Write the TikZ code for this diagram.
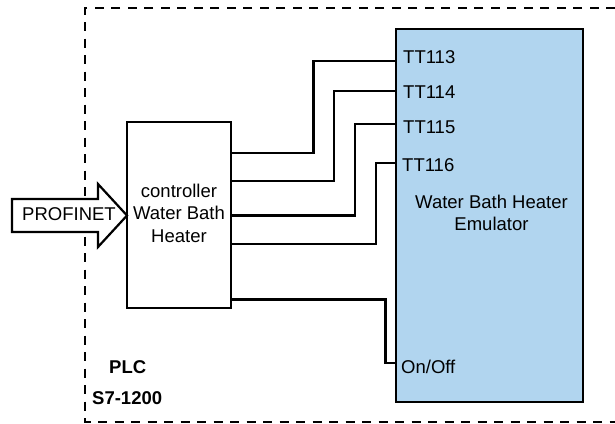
\documentclass[tikz,border=0pt]{standalone}
\usepackage{fontspec}
\setmainfont{Liberation Sans}
\definecolor{emublue}{HTML}{B1D5EF}
\begin{document}
\begin{tikzpicture}[x=1pt,y=-1pt,
  box/.style={draw=black,line width=2.2pt,inner sep=0pt},
  wire/.style={draw=black,line width=2.2pt},
  lbl/.style={inner sep=0pt,font=\fontsize{18.5}{22.5}\selectfont},
  plclbl/.style={inner sep=0pt,anchor=west,font=\fontsize{18.5}{22.5}\selectfont\bfseries}]
\useasboundingbox (0,0) rectangle (615,423);
% dashed PLC frame
\draw[line width=2pt,dash pattern=on 9pt off 7.5pt] (615,7.5) -- (85,7.5) -- (85,421.5) -- (615,421.5);
% boxes
\node[box,fill=white,minimum width=104,minimum height=186] (ctrl) at (179,215) {};
\node[lbl,align=center] (ctrltext) at (179,213) {controller\\Water Bath\\Heater};
\node[box,fill=emublue,minimum width=187,minimum height=373] (emu) at (489.5,215.5) {};
\node[lbl,align=center] (emutext) at (491.5,213) {Water Bath Heater\\Emulator};
% PROFINET arrow
\draw[line width=2.2pt,fill=white,line join=miter] (12,199) -- (98,199) -- (98,184) -- (127,215.5) -- (98,247) -- (98,232) -- (12,232) -- cycle;
\node[lbl] (profinet) at (69,214) {PROFINET};
% port labels
\node[lbl,anchor=west] (t113) at (403,57.5) {TT113};
\node[lbl,anchor=west] (t114) at (403,92.5) {TT114};
\node[lbl,anchor=west] (t115) at (403,127) {TT115};
\node[lbl,anchor=west] (t116) at (402,165) {TT116};
\node[lbl,anchor=west] (onoff) at (401,366.5) {On/Off};
% PLC labels
\node[plclbl] (plc) at (109,367) {PLC};
\node[plclbl] (s7) at (92,398) {S7-1200};
% wires
\draw[wire] (ctrl.east |- 0,153) -| (313.5,61) -- (emu.west |- 0,61);
\draw[wire] (ctrl.east |- 0,181) -| (334,91) -- (emu.west |- 0,91);
\draw[wire] (ctrl.east |- 0,215.5) -| (355,124) -- (emu.west |- 0,124);
\draw[wire] (ctrl.east |- 0,244) -| (376,163) -- (emu.west |- 0,163);
\draw[wire] (ctrl.east |- 0,299.5) -| (385.5,363) -- (emu.west |- 0,363);
\end{tikzpicture}
\end{document}
